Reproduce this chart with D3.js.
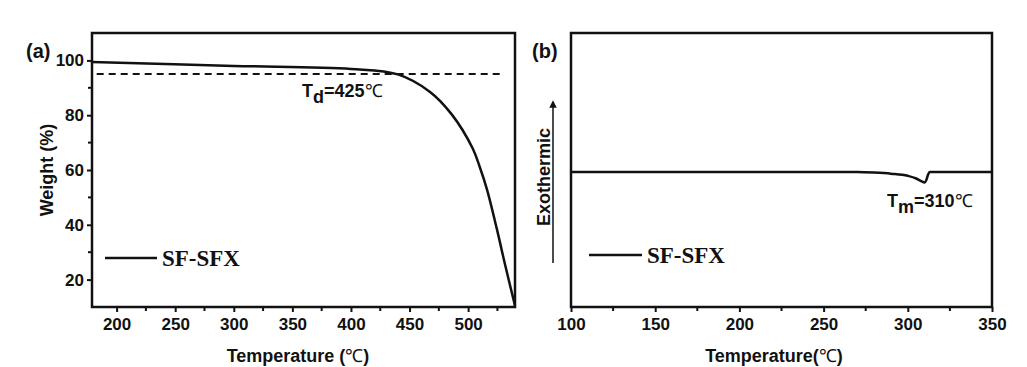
<!DOCTYPE html>
<html>
<head>
<meta charset="utf-8">
<script src="https://cdn.jsdelivr.net/npm/d3@7"></script>
<style>
  body { margin: 0; background: #fff; }
  svg { display: block; }
  .tick text { font-family: "Liberation Sans", Arial, sans-serif; font-weight: bold; font-size: 17px; fill: #111; }
  .lbl { font-family: "Liberation Sans", Arial, sans-serif; font-weight: bold; fill: #111; }
  .leg { font-family: "Liberation Serif", "Times New Roman", serif; font-weight: bold; font-size: 23px; fill: #111; }
</style>
</head>
<body>
<svg width="1027" height="367"></svg>
<script>
// TGA curve (a): temperature, weight %
var tgaTemp   = [179, 300, 400, 440, 467.5, 486, 503.5, 510, 516, 524.5, 531.5, 540];
var tgaWeight = [99.4, 98, 96.9, 94.9, 88.5, 80.3, 68.2, 61, 53, 38.5, 25.5, 10.5];
var tdLevel = 95;

// DSC curve (b): temperature, heat flow (a.u.)
var dscTemp = [100, 150, 200, 250, 270, 280, 290, 300, 305, 308, 310, 311, 312, 313, 320, 350];
var dscFlow = [0, 0, 0, 0, 0, -0.004, -0.012, -0.028, -0.048, -0.068, -0.078, -0.06, -0.02, 0, 0, 0];

var tgaXTicks = [200, 250, 300, 350, 400, 450, 500];
var tgaYTicks = [20, 40, 60, 80, 100];
var dscXTicks = [100, 150, 200, 250, 300, 350];

var svg = d3.select("svg");
var top_ = 33, bottom = 307;

// ---------- panel (a)
var xa = d3.scaleLinear().domain([179, 540]).range([92, 515]);
var ya = d3.scaleLinear().domain([10, 110]).range([bottom, top_]);

function minorTicks(axisG, scale, vals, orient) {
    vals.forEach(function(v) {
        if (orient == "bottom")
            axisG.append("line").attr("x1", scale(v)).attr("x2", scale(v))
                .attr("y1", bottom).attr("y2", bottom + 4);
        else
            axisG.append("line").attr("y1", scale(v)).attr("y2", scale(v))
                .attr("x1", 92).attr("x2", 88);
    });
}

var ga = svg.append("g");
ga.append("g").attr("transform", "translate(0," + bottom + ")")
    .call(d3.axisBottom(xa).tickValues(tgaXTicks).tickSize(5).tickPadding(6));
ga.append("g").attr("transform", "translate(92,0)")
    .call(d3.axisLeft(ya).tickValues(tgaYTicks).tickSize(5).tickPadding(3));
var mins = ga.append("g").attr("stroke", "#111").attr("stroke-width", 2);
minorTicks(mins, xa, [225, 275, 325, 375, 425, 475, 525], "bottom");
minorTicks(mins, ya, [30, 50, 70, 90], "left");

ga.append("rect").attr("x", 92).attr("y", top_).attr("width", 515 - 92).attr("height", bottom - top_)
  .attr("fill", "none").attr("stroke", "#111").attr("stroke-width", 2.5);

ga.append("line").attr("x1", xa(183)).attr("x2", xa(528))
  .attr("y1", ya(tdLevel)).attr("y2", ya(tdLevel))
  .attr("stroke", "#111").attr("stroke-width", 2).attr("stroke-dasharray", "7,5");

var lineA = d3.line().x(function(d, i){ return xa(tgaTemp[i]); })
    .y(function(d){ return ya(d); }).curve(d3.curveCatmullRom.alpha(0.5));
ga.append("path").datum(tgaWeight).attr("d", lineA)
  .attr("fill", "none").attr("stroke", "#111").attr("stroke-width", 2.5);

var td = ga.append("text").attr("class", "lbl").attr("x", 302).attr("y", 97).style("font-size", "18px");
td.append("tspan").text("T");
td.append("tspan").attr("dy", 6).text("d");
td.append("tspan").attr("dy", -6).text("=425");
td.append("tspan").style("font-weight", "normal").style("font-family", "Liberation Serif, serif").text("\u2103");

ga.append("line").attr("x1", 105).attr("x2", 157).attr("y1", 258).attr("y2", 258)
  .attr("stroke", "#111").attr("stroke-width", 2.5);
ga.append("text").attr("class", "leg").attr("x", 162).attr("y", 266).text("SF-SFX");

ga.append("text").attr("class", "lbl").attr("x", 26).attr("y", 58).style("font-size", "20px").text("(a)");
ga.append("text").attr("class", "lbl").attr("transform", "translate(53,170) rotate(-90)")
  .attr("text-anchor", "middle").style("font-size", "18px").text("Weight (%)");
var xtA = ga.append("text").attr("class", "lbl").attr("x", 298).attr("y", 362)
  .attr("text-anchor", "middle").style("font-size", "18px");
xtA.append("tspan").text("Temperature (");
xtA.append("tspan").style("font-weight", "normal").style("font-family", "Liberation Serif, serif").text("\u2103");
xtA.append("tspan").text(")");

// ---------- panel (b)
var xb = d3.scaleLinear().domain([100, 350]).range([571, 992]);
var yb = d3.scaleLinear().domain([-1, 1.03]).range([bottom, top_]);

var gb = svg.append("g");
gb.append("g").attr("transform", "translate(0," + bottom + ")")
  .call(d3.axisBottom(xb).tickValues(dscXTicks).tickSize(5).tickPadding(6));
var minsB = gb.append("g").attr("stroke", "#111").attr("stroke-width", 2);
[125, 175, 225, 275, 325].forEach(function(v) {
    minsB.append("line").attr("x1", xb(v)).attr("x2", xb(v)).attr("y1", bottom).attr("y2", bottom + 4);
});
gb.append("rect").attr("x", 571).attr("y", top_).attr("width", 992 - 571).attr("height", bottom - top_)
  .attr("fill", "none").attr("stroke", "#111").attr("stroke-width", 2.5);

var lineB = d3.line().x(function(d, i){ return xb(dscTemp[i]); })
    .y(function(d){ return yb(d); }).curve(d3.curveMonotoneX);
gb.append("path").datum(dscFlow).attr("d", lineB)
  .attr("fill", "none").attr("stroke", "#111").attr("stroke-width", 2.5);

var tm = gb.append("text").attr("class", "lbl").attr("x", 887).attr("y", 207).style("font-size", "18px");
tm.append("tspan").text("T");
tm.append("tspan").attr("dy", 6).text("m");
tm.append("tspan").attr("dy", -6).text("=310");
tm.append("tspan").style("font-weight", "normal").style("font-family", "Liberation Serif, serif").text("\u2103");

gb.append("line").attr("x1", 589).attr("x2", 642).attr("y1", 255).attr("y2", 255)
  .attr("stroke", "#111").attr("stroke-width", 2.5);
gb.append("text").attr("class", "leg").attr("x", 647).attr("y", 263).text("SF-SFX");

gb.append("text").attr("class", "lbl").attr("x", 532).attr("y", 58).style("font-size", "20px").text("(b)");
gb.append("text").attr("class", "lbl").attr("transform", "translate(550,177) rotate(-90)")
  .attr("text-anchor", "middle").style("font-size", "18px").text("Exothermic");

svg.append("defs").append("marker").attr("id", "arr").attr("viewBox", "0 0 10 10")
  .attr("refX", 5).attr("refY", 5).attr("markerWidth", 5).attr("markerHeight", 7)
  .attr("orient", "auto").append("path").attr("d", "M0,0 L10,5 L0,10 z").attr("fill", "#111");
gb.append("line").attr("x1", 553).attr("x2", 553).attr("y1", 263).attr("y2", 104)
  .attr("stroke", "#111").attr("stroke-width", 1.5).attr("marker-end", "url(#arr)");

var xtB = gb.append("text").attr("class", "lbl").attr("x", 774).attr("y", 362)
  .attr("text-anchor", "middle").style("font-size", "18px");
xtB.append("tspan").text("Temperature(");
xtB.append("tspan").style("font-weight", "normal").style("font-family", "Liberation Serif, serif").text("\u2103");
xtB.append("tspan").text(")");

svg.selectAll(".domain").remove();
svg.selectAll(".tick line").attr("stroke", "#111").attr("stroke-width", 2);
</script>
</body>
</html>
